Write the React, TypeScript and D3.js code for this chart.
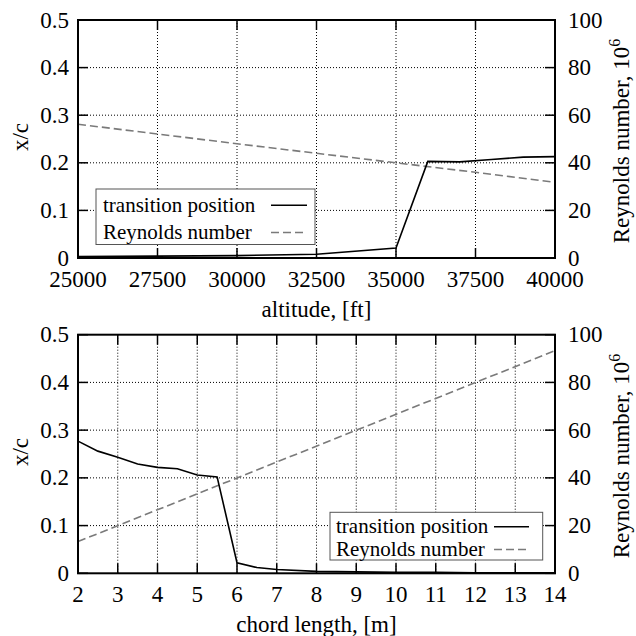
import React from "react";
import * as d3 from "d3";

// ---- data: top panel (altitude) ----
const altitude = [25000, 27500, 30000, 32500, 35000, 36000, 37000, 38000, 39000, 40000];
const transitionAlt = [0.003, 0.004, 0.005, 0.008, 0.021, 0.203, 0.202, 0.207, 0.212, 0.213];
const reAltX = [25000, 27500, 30000, 32500, 35000, 37500, 40000];
const reAlt = [56.2, 52.1, 48.0, 44.0, 40.0, 36.0, 31.8];

// ---- data: bottom panel (chord length) ----
const chord = [2, 2.5, 3, 3.5, 4, 4.5, 5, 5.5, 6, 6.5, 7, 8, 9, 10, 11, 12, 13, 14];
const transitionChord = [0.277, 0.256, 0.243, 0.229, 0.222, 0.219, 0.206, 0.202, 0.022, 0.012, 0.008, 0.004, 0.003, 0.002, 0.002, 0.001, 0.001, 0.001];
const reChordX = [2, 14];
const reChord = [13.3, 93.3];

// ---- ticks ----
const altTicks = [25000, 27500, 30000, 32500, 35000, 37500, 40000];
const chordTicks = [2, 3, 4, 5, 6, 7, 8, 9, 10, 11, 12, 13, 14];
const yTicks = [0, 0.1, 0.2, 0.3, 0.4, 0.5];
const yTickLabels = ["0", "0.1", "0.2", "0.3", "0.4", "0.5"];
const y2Ticks = [0, 20, 40, 60, 80, 100];

const FONT = "'Liberation Serif', 'Times New Roman', serif";
const TICK_FS = 23;
const LEG_FS = 21;

type PanelProps = {
  top: number;
  bottom: number;
  xDomain: [number, number];
  xTicks: number[];
  xs: number[];
  ys: number[];
  rxs: number[];
  rys: number[];
  xLabel: string;
  legend: { x0: number; y0: number; x1: number; y1: number; textX: number; row1: number; row2: number; lx0: number; lx1: number };
};

const txt = (fs: number): React.CSSProperties => ({ fontFamily: FONT, fontSize: fs + "px" });

function Panel({ top, bottom, xDomain, xTicks, xs, ys, rxs, rys, xLabel, legend }: PanelProps) {
  const left = 78;
  const right = 555;
  const x = d3.scaleLinear().domain(xDomain).range([left, right]);
  const y = d3.scaleLinear().domain([0, 0.5]).range([bottom, top]);
  const y2 = d3.scaleLinear().domain([0, 100]).range([bottom, top]);
  const line = d3
    .line<[number, number]>()
    .x((d) => x(d[0]))
    .y((d) => y(d[1]));
  const line2 = d3
    .line<[number, number]>()
    .x((d) => x(d[0]))
    .y((d) => y2(d[1]));
  const tData = xs.map((v, i) => [v, ys[i]] as [number, number]);
  const rData = rxs.map((v, i) => [v, rys[i]] as [number, number]);
  const tickLen = 10;
  const midY = (top + bottom) / 2;
  return (
    <g>
      {/* grid */}
      {xTicks.slice(1, -1).map((t) => (
        <line key={"gx" + t} x1={x(t)} x2={x(t)} y1={top} y2={bottom} stroke="#000" strokeWidth={1} strokeDasharray="1,2" />
      ))}
      {yTicks.slice(1, -1).map((t) => (
        <line key={"gy" + t} x1={left} x2={right} y1={y(t)} y2={y(t)} stroke="#000" strokeWidth={1} strokeDasharray="1,2" />
      ))}
      {/* ticks */}
      {xTicks.map((t) => (
        <g key={"tx" + t}>
          <line x1={x(t)} x2={x(t)} y1={bottom} y2={bottom - tickLen} stroke="#000" strokeWidth={1.5} />
          <line x1={x(t)} x2={x(t)} y1={top} y2={top + tickLen} stroke="#000" strokeWidth={1.5} />
          <text x={x(t)} y={bottom + 29} textAnchor="middle" style={txt(TICK_FS)}>
            {String(t)}
          </text>
        </g>
      ))}
      {yTicks.map((t, i) => (
        <g key={"ty" + t}>
          <line x1={left} x2={left + tickLen} y1={y(t)} y2={y(t)} stroke="#000" strokeWidth={1.5} />
          <text x={left - 9} y={y(t) + 7.5} textAnchor="end" style={txt(TICK_FS)}>
            {yTickLabels[i]}
          </text>
        </g>
      ))}
      {y2Ticks.map((t) => (
        <g key={"ty2" + t}>
          <line x1={right} x2={right - tickLen} y1={y2(t)} y2={y2(t)} stroke="#000" strokeWidth={1.5} />
          <text x={right + 13} y={y2(t) + 7.5} textAnchor="start" style={txt(TICK_FS)}>
            {String(t)}
          </text>
        </g>
      ))}
      {/* series */}
      <path d={line2(rData) || ""} fill="none" stroke="#7a7a7a" strokeWidth={1.6} strokeDasharray="8,4" />
      <path d={line(tData) || ""} fill="none" stroke="#000" strokeWidth={1.6} />
      {/* legend */}
      <rect x={legend.x0} y={legend.y0} width={legend.x1 - legend.x0} height={legend.y1 - legend.y0} fill="#fff" stroke="#555" strokeWidth={1} />
      <text x={legend.textX} y={legend.row1 + 6.5} style={txt(LEG_FS)}>transition position</text>
      <text x={legend.textX} y={legend.row2 + 6.5} style={txt(LEG_FS)}>Reynolds number</text>
      <line x1={legend.lx0} x2={legend.lx1} y1={legend.row1} y2={legend.row1} stroke="#000" strokeWidth={1.6} />
      <line x1={legend.lx0} x2={legend.lx1} y1={legend.row2} y2={legend.row2} stroke="#7a7a7a" strokeWidth={1.6} strokeDasharray="8,4" />
      {/* border */}
      <rect x={left} y={top} width={right - left} height={bottom - top} fill="none" stroke="#000" strokeWidth={2} />
      {/* axis labels */}
      <text x={(left + right) / 2} y={bottom + 59} textAnchor="middle" style={txt(TICK_FS)}>
        {xLabel}
      </text>
      <text transform={`translate(28,${midY - 2}) rotate(-90)`} textAnchor="middle" style={txt(TICK_FS)}>
        x/c
      </text>
      <text transform={`translate(629,${midY + 2}) rotate(-90)`} textAnchor="middle" style={txt(TICK_FS)}>
        Reynolds number, 10
        <tspan style={{ fontSize: "16px" }} dy={-9}>6</tspan>
      </text>
    </g>
  );
}

export default function App() {
  return (
    <svg width={636} height={636} style={{ position: "absolute", left: 0, top: 0, background: "#fff" }}>
      <rect x={0} y={0} width={636} height={636} fill="#fff" />
      <Panel
        top={20}
        bottom={258}
        xDomain={[25000, 40000]}
        xTicks={altTicks}
        xs={altitude}
        ys={transitionAlt}
        rxs={reAltX}
        rys={reAlt}
        xLabel="altitude, [ft]"
        legend={{ x0: 96, y0: 189, x1: 315, y1: 244.5, textX: 103, row1: 205.3, row2: 232.5, lx0: 271, lx1: 307 }}
      />
      <Panel
        top={334.7}
        bottom={573.3}
        xDomain={[2, 14]}
        xTicks={chordTicks}
        xs={chord}
        ys={transitionChord}
        rxs={reChordX}
        rys={reChord}
        xLabel="chord length, [m]"
        legend={{ x0: 330, y0: 512.3, x1: 542.7, y1: 560, textX: 336, row1: 526.7, row2: 549.5, lx0: 494, lx1: 529 }}
      />
    </svg>
  );
}
